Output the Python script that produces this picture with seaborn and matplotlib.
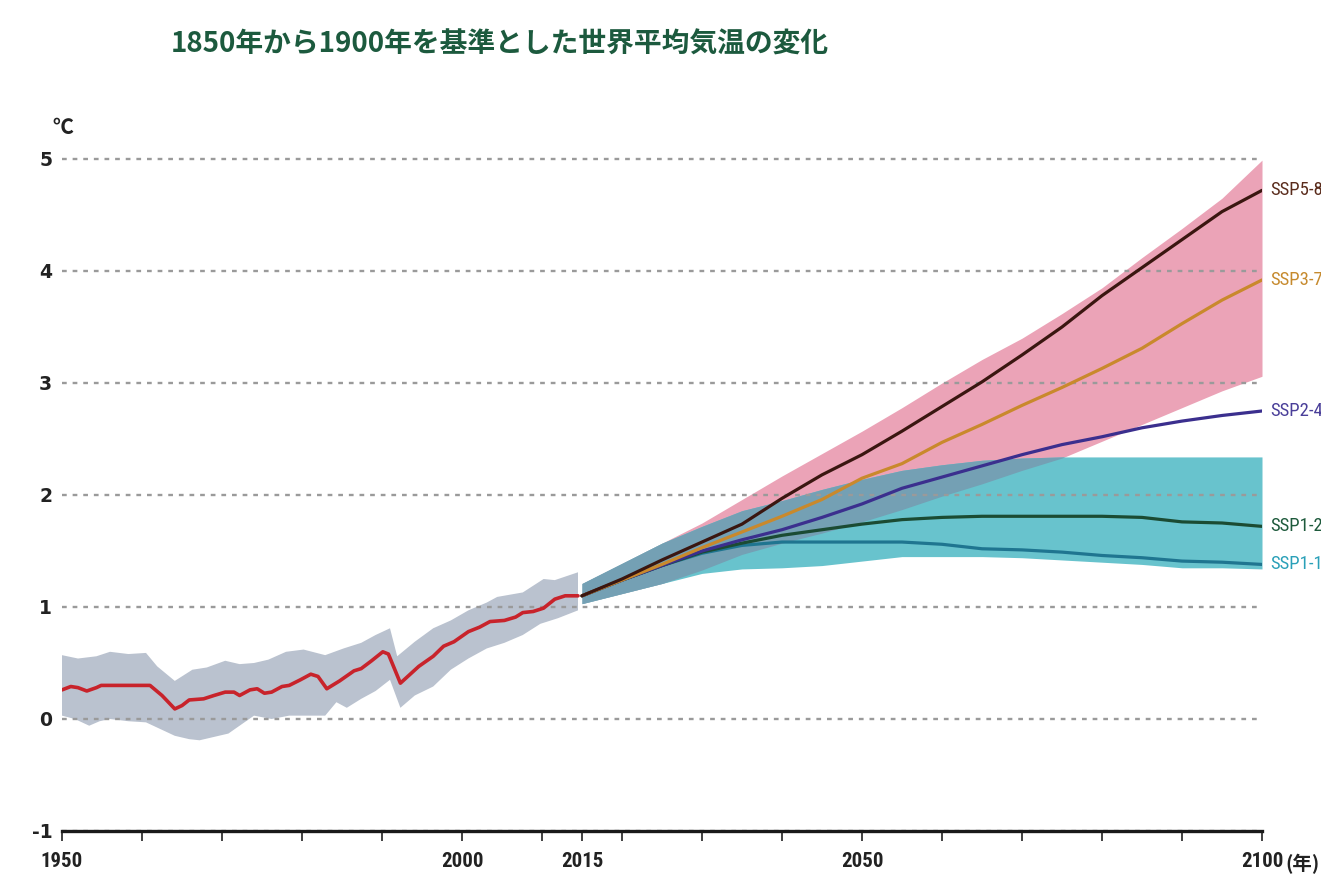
import numpy as np
import pandas as pd
import matplotlib
matplotlib.use("Agg")
import matplotlib.pyplot as plt
import seaborn as sns

# ---- observed global mean temperature change (relative to 1850-1900), °C ----
obs_years = [1950.0, 1951.1, 1952.0, 1953.1, 1954.3, 1954.9, 1956.0, 1961.0, 1962.5, 1964.1,
             1965.0, 1965.9, 1967.7, 1969.0, 1970.4, 1971.5, 1972.2, 1973.5, 1974.4, 1975.3,
             1976.2, 1977.5, 1978.4, 1979.8, 1981.1, 1982.0, 1983.1, 1984.7, 1986.5, 1987.4,
             1988.7, 1990.1, 1990.8, 1992.3, 1994.6, 1996.4, 1997.7, 1999.0, 2000.8, 2002.2,
             2003.5, 2005.3, 2006.7, 2007.6, 2008.9, 2010.2, 2011.6, 2012.9, 2014.5]
obs_mean = [0.26, 0.29, 0.28, 0.25, 0.28, 0.30, 0.30, 0.30, 0.21, 0.09,
            0.12, 0.17, 0.18, 0.21, 0.24, 0.24, 0.21, 0.26, 0.27, 0.23,
            0.24, 0.29, 0.30, 0.35, 0.40, 0.38, 0.27, 0.34, 0.43, 0.45,
            0.52, 0.60, 0.58, 0.32, 0.47, 0.56, 0.65, 0.69, 0.78, 0.82,
            0.87, 0.88, 0.91, 0.95, 0.96, 0.99, 1.07, 1.10, 1.10]

obs_hi_years = [1950.0, 1952.0, 1954.3, 1956.0, 1958.3, 1960.5, 1961.9, 1964.1, 1966.3, 1968.1,
                1970.4, 1972.2, 1974.0, 1975.8, 1978.0, 1980.2, 1982.9, 1985.2, 1987.4, 1989.2,
                1991.0, 1991.9, 1994.1, 1996.4, 1998.6, 2000.8, 2003.1, 2004.4, 2007.6, 2010.2,
                2011.6, 2014.5]
obs_hi = [0.57, 0.54, 0.56, 0.60, 0.58, 0.59, 0.47, 0.34, 0.44, 0.46,
          0.52, 0.49, 0.50, 0.53, 0.60, 0.62, 0.57, 0.63, 0.68, 0.75,
          0.81, 0.56, 0.69, 0.81, 0.88, 0.97, 1.04, 1.09, 1.13, 1.25,
          1.24, 1.31]

obs_lo_years = [1950.0, 1951.6, 1953.4, 1954.7, 1956.0, 1958.3, 1960.5, 1962.3, 1964.1, 1965.9,
                1967.2, 1969.0, 1970.8, 1972.2, 1974.0, 1976.2, 1978.4, 1981.1, 1982.9, 1984.3,
                1985.6, 1987.4, 1989.2, 1991.0, 1992.3, 1994.1, 1996.4, 1998.6, 2000.8, 2003.1,
                2005.3, 2007.6, 2009.8, 2012.0, 2014.5]
obs_lo = [0.03, 0.00, -0.06, -0.02, 0.00, -0.02, -0.03, -0.09, -0.15, -0.18,
          -0.19, -0.16, -0.13, -0.06, 0.03, 0.00, 0.03, 0.03, 0.03, 0.15,
          0.10, 0.18, 0.25, 0.35, 0.10, 0.21, 0.29, 0.44, 0.54, 0.63,
          0.68, 0.75, 0.85, 0.90, 0.97]

# ---- scenario projections, 2015-2100 ----
proj_years = [2015, 2020, 2025, 2030, 2035, 2040, 2045, 2050, 2055,
              2060, 2065, 2070, 2075, 2080, 2085, 2090, 2095, 2100]
ssp585 = [1.10, 1.25, 1.42, 1.58, 1.74, 1.97, 2.18, 2.36, 2.57,
          2.79, 3.01, 3.25, 3.50, 3.78, 4.03, 4.28, 4.53, 4.72]
ssp370 = [1.10, 1.24, 1.38, 1.53, 1.67, 1.81, 1.96, 2.15, 2.28,
          2.47, 2.63, 2.80, 2.96, 3.13, 3.31, 3.53, 3.74, 3.92]
ssp245 = [1.10, 1.24, 1.37, 1.50, 1.60, 1.69, 1.80, 1.92, 2.06,
          2.16, 2.26, 2.36, 2.45, 2.52, 2.60, 2.66, 2.71, 2.75]
ssp126 = [1.10, 1.24, 1.37, 1.49, 1.57, 1.64, 1.69, 1.74, 1.78,
          1.80, 1.81, 1.81, 1.81, 1.81, 1.80, 1.76, 1.75, 1.72]
ssp119 = [1.10, 1.24, 1.37, 1.48, 1.55, 1.58, 1.58, 1.58, 1.58,
          1.56, 1.52, 1.51, 1.49, 1.46, 1.44, 1.41, 1.40, 1.38]

# very likely ranges: high-emission (SSP3-7.0 / SSP5-8.5) and low-emission (SSP1-1.9 / SSP1-2.6)
high_hi = [1.21, 1.39, 1.57, 1.75, 1.96, 2.17, 2.37, 2.57, 2.78,
           3.00, 3.21, 3.40, 3.62, 3.85, 4.12, 4.38, 4.65, 4.99]
high_lo = [1.03, 1.12, 1.21, 1.33, 1.47, 1.57, 1.66, 1.76, 1.87,
           1.99, 2.10, 2.22, 2.33, 2.48, 2.63, 2.78, 2.93, 3.06]
low_hi = [1.21, 1.39, 1.57, 1.72, 1.86, 1.95, 2.05, 2.14, 2.22,
          2.27, 2.31, 2.33, 2.34, 2.34, 2.34, 2.34, 2.34, 2.34]
low_lo = [1.03, 1.12, 1.21, 1.30, 1.34, 1.35, 1.37, 1.41, 1.45,
          1.45, 1.45, 1.44, 1.42, 1.40, 1.38, 1.35, 1.35, 1.34]

scenarios = ["SSP5-8.5", "SSP3-7.0", "SSP2-4.5", "SSP1-2.6", "SSP1-1.9"]
scenario_values = [ssp585, ssp370, ssp245, ssp126, ssp119]
line_colors = ["#3a1610", "#c9892c", "#3b2f8e", "#1b4b33", "#1f7590"]
label_colors = ["#5a2c1c", "#c68a2e", "#4a3f99", "#1e5a3c", "#2aa0b8"]

x_ticks = [1950, 1960, 1970, 1980, 1990, 2000, 2010, 2015, 2020,
           2030, 2040, 2050, 2060, 2070, 2080, 2090, 2100]
x_tick_labels = ["1950", "", "", "", "", "2000", "", "2015", "",
                 "", "", "2050", "", "", "", "", "2100"]
y_ticks = [-1, 0, 1, 2, 3, 4, 5]

title = "1850年から1900年を基準とした世界平均気温の変化"
unit_y = "℃"
unit_x = "(年)"

# ---- styling ----
sns.set_theme(style="white")
plt.rcParams["font.family"] = ["Noto Sans CJK JP", "DejaVu Sans"]
narrow = ["Liberation Sans Narrow", "Roboto Condensed", "DejaVu Sans"]

W, H = 1321, 885
fig = plt.figure(figsize=(W / 100, H / 100), dpi=100)
fig.patch.set_facecolor("white")
ax = fig.add_axes([62 / W, 54 / H, 1200 / W, 6.2 * 112 / H])
ax.set_xlim(1950, 2100)
ax.set_ylim(-1, 5.2)

# observed uncertainty band
ax.fill(np.r_[obs_hi_years, obs_lo_years[::-1]], np.r_[obs_hi, obs_lo[::-1]],
        color="#bac2cf", lw=0, zorder=1)

# projection ranges and their overlap
hh, hl = np.array(high_hi), np.array(high_lo)
lh, ll = np.array(low_hi), np.array(low_lo)
ax.fill_between(proj_years, hl, hh, color="#eba3b7", lw=0, zorder=1)
ax.fill_between(proj_years, ll, lh, color="#68c3cd", lw=0, zorder=1)
ov_lo, ov_hi = np.maximum(hl, ll), np.minimum(hh, lh)
ax.fill_between(proj_years, ov_lo, ov_hi, where=ov_hi > ov_lo, interpolate=True,
                color="#74a0b4", lw=0, zorder=1.1)

# observed mean
sns.lineplot(x=obs_years, y=obs_mean, color="#c8232b", lw=2.6, ax=ax, zorder=3)

# scenario means
proj_df = pd.DataFrame({
    "year": np.tile(proj_years, len(scenarios)),
    "value": np.concatenate(scenario_values),
    "scenario": np.repeat(scenarios, len(proj_years)),
})
sns.lineplot(data=proj_df, x="year", y="value", hue="scenario",
             hue_order=scenarios[::-1], palette=dict(zip(scenarios, line_colors)),
             lw=2.3, legend=False, ax=ax, zorder=3)

for name, vals, col in zip(scenarios, scenario_values, label_colors):
    ax.text(2101.0, vals[-1], name, color=col, fontsize=13.5, family=narrow,
            ha="left", va="center", clip_on=False)

# grid, spines, ticks
ax.set_axisbelow("line")
ax.grid(axis="y", color="#9a9a9a", ls=(0, (2, 2.5)), lw=1.7)
ax.grid(axis="x", visible=False)
for s in ("left", "top", "right"):
    ax.spines[s].set_visible(False)
ax.spines["bottom"].set_color("#1a1a1a")
ax.spines["bottom"].set_linewidth(2.4)

ax.set_xticks(x_ticks)
ax.set_xticklabels(x_tick_labels)
ax.set_yticks(y_ticks)
ax.set_yticklabels([str(v) for v in y_ticks])
ax.tick_params(axis="x", bottom=True, direction="out", length=7, width=1.3,
               color="#333333", pad=8)
ax.tick_params(axis="y", left=False, length=0, pad=7)
for lab in ax.get_xticklabels():
    lab.set_family(narrow)
    lab.set_fontsize(15)
    lab.set_fontweight("bold")
    lab.set_color("#222222")
for lab in ax.get_yticklabels():
    lab.set_family(["DejaVu Sans"])
    lab.set_fontsize(13.5)
    lab.set_fontweight("bold")
    lab.set_color("#222222")
ax.set_xlabel("")
ax.set_ylabel("")

# title and units
fig.text(500 / W, 1 - 45 / H, title, ha="center", va="center", fontsize=20,
         fontweight="bold", color="#1c5a3e")
fig.text(52 / W, 1 - 127 / H, unit_y, ha="left", va="center", fontsize=15,
         fontweight="bold", color="#222222")
fig.text(1285 / W, 1 - 864 / H, unit_x, ha="left", va="center", fontsize=14,
         fontweight="bold", family=["Liberation Sans Narrow", "Noto Sans CJK JP"],
         color="#222222")

fig.savefig("out.png", dpi=100)
